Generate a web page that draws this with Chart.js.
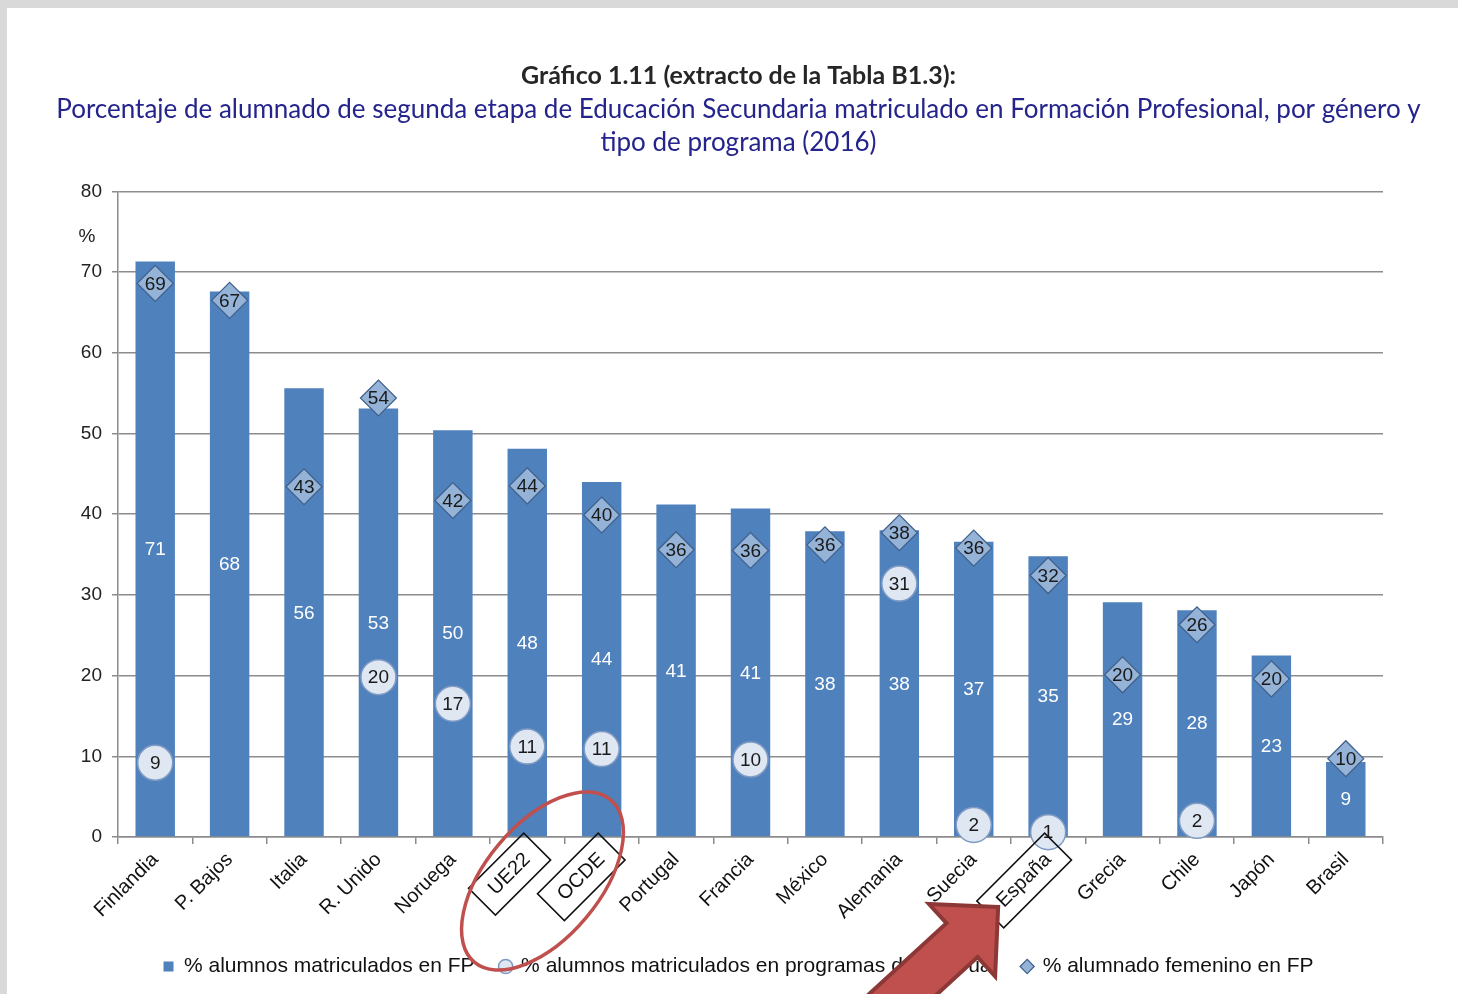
<!DOCTYPE html>
<html>
<head>
<meta charset="utf-8">
<script src="https://cdn.jsdelivr.net/npm/chart.js@4"></script>
<style>
  html, body { margin: 0; padding: 0; background: #d9d9d9; }
  #marco { position: absolute; left: 7px; top: 8px; width: 1451px; height: 986px; background: #ffffff; }
</style>
</head>
<body>
<div id="marco"><canvas id="grafico" width="1451" height="986"></canvas></div>
<script>
const paises = ['Finlandia', 'P. Bajos', 'Italia', 'R. Unido', 'Noruega', 'UE22', 'OCDE', 'Portugal', 'Francia',
    'México', 'Alemania', 'Suecia', 'España', 'Grecia', 'Chile', 'Japón', 'Brasil'];
const matriculadosFP = [71.3, 67.6, 55.6, 53.1, 50.4, 48.1, 44.0, 41.2, 40.7, 37.9, 38.0, 36.6, 34.8, 29.1, 28.1, 22.5, 9.3];
const programasDual = [9.2, null, null, 19.8, 16.5, 11.2, 10.9, null, 9.6, null, 31.4, 1.5, 0.6, null, 2.0, null, null];
const femeninoFP = [68.6, 66.5, 43.4, 54.4, 41.7, 43.5, 39.9, 35.6, 35.5, 36.2, 37.7, 35.8, 32.4, 20.1, 26.3, 19.6, 9.7];
const ticksY = [0, 10, 20, 30, 40, 50, 60, 70, 80];
const resaltados = ['UE22', 'OCDE', 'España'];
const rodeados = ['UE22', 'OCDE'];
const senalado = 'España';

const fuente = 'Liberation Sans, Arial, sans-serif';
const gris = '#8c8c8c';

// etiquetas de valor dentro de barras y marcadores
const etiquetas = {
    id: 'etiquetas',
    afterDatasetsDraw(chart) {
        const ctx = chart.ctx;
        ctx.save();
        ctx.textAlign = 'center';
        ctx.textBaseline = 'middle';
        ctx.font = '19px ' + fuente;
        chart.data.datasets.forEach((ds, i) => {
            const meta = chart.getDatasetMeta(i);
            meta.data.forEach((el, j) => {
                const v = ds.data[j];
                if (v === null || v === undefined) return;
                if (meta.type === 'bar') {
                    ctx.fillStyle = '#ffffff';
                    ctx.fillText(Math.round(v), el.x, (el.y + el.base) / 2 + 1);
                } else {
                    ctx.fillStyle = '#1a1a1a';
                    ctx.fillText(Math.round(v), el.x, el.y + 1);
                }
            });
        });
        ctx.restore();
    }
};

// recuadros, elipse, flecha y simbolo %
const anotaciones = {
    id: 'anotaciones',
    afterDraw(chart) {
        const ctx = chart.ctx;
        const xs = chart.scales.x, ys = chart.scales.y;
        const area = chart.chartArea;
        const items = xs.getLabelItems();

        ctx.save();
        ctx.font = '19px ' + fuente;
        ctx.fillStyle = '#222';
        ctx.textAlign = 'center';
        ctx.textBaseline = 'middle';
        ctx.fillText('%', area.left - 31, ys.getPixelForValue(74.4));
        ctx.restore();

        items.forEach(it => {
            if (!resaltados.includes(it.label)) return;
            const o = it.options;
            ctx.save();
            ctx.translate(o.translation[0], o.translation[1]);
            ctx.rotate(o.rotation);
            ctx.font = it.font.string;
            const w = ctx.measureText(it.label).width;
            const h = it.font.size;
            let x0 = -w;
            if (o.textAlign === 'left') x0 = 0;
            if (o.textAlign === 'center') x0 = -w / 2;
            let y0 = it.textOffset - h / 2;
            if (o.textBaseline === 'top') y0 = it.textOffset;
            if (o.textBaseline === 'bottom') y0 = it.textOffset - h;
            ctx.strokeStyle = '#111';
            ctx.lineWidth = 1.6;
            ctx.strokeRect(x0 - 14, y0 - 9, w + 28, h + 18);
            ctx.restore();
        });

        const ia = paises.indexOf(rodeados[0]), ib = paises.indexOf(rodeados[1]);
        const cx = (xs.getPixelForValue(ia) + xs.getPixelForValue(ib)) / 2 - 22;
        const cy = area.bottom + 44;
        ctx.save();
        ctx.strokeStyle = '#c0504d';
        ctx.lineWidth = 3.5;
        ctx.beginPath();
        ctx.ellipse(cx, cy, 106, 57, -50 * Math.PI / 180, 0, Math.PI * 2);
        ctx.stroke();
        ctx.restore();

        const ie = paises.indexOf(senalado);
        const tx = xs.getPixelForValue(ie) - 50;
        const ty = area.bottom + 70;
        ctx.save();
        ctx.translate(tx, ty);
        ctx.rotate(-42.5 * Math.PI / 180);
        ctx.beginPath();
        ctx.moveTo(0, 0);
        ctx.lineTo(-49, -49);
        ctx.lineTo(-49, -23);
        ctx.lineTo(-220, -23);
        ctx.lineTo(-220, 23);
        ctx.lineTo(-49, 23);
        ctx.lineTo(-49, 49);
        ctx.closePath();
        ctx.fillStyle = '#c0504d';
        ctx.fill();
        ctx.strokeStyle = '#8c3836';
        ctx.lineWidth = 4;
        ctx.lineJoin = 'miter';
        ctx.stroke();
        ctx.restore();
    }
};

new Chart(document.getElementById('grafico').getContext('2d'), {
    type: 'bar',
    data: {
        labels: paises,
        datasets: [{
            label: '% alumnos matriculados en FP',
            data: matriculadosFP,
            backgroundColor: '#4f81bd',
            pointStyle: 'rect',
            barPercentage: 0.53,
            categoryPercentage: 1,
            order: 3
        }, {
            type: 'line',
            label: '% alumnos matriculados en programas de FP Dual',
            data: programasDual,
            showLine: false,
            pointStyle: 'circle',
            pointRadius: 17.5,
            pointBackgroundColor: '#dfe7f2',
            pointBorderColor: '#7f9bc4',
            pointBorderWidth: 1.5,
            backgroundColor: '#dfe7f2',
            borderColor: '#7f9bc4',
            borderWidth: 1.5,
            clip: false,
            order: 2
        }, {
            type: 'line',
            label: '% alumnado femenino en FP',
            data: femeninoFP,
            showLine: false,
            pointStyle: 'rectRot',
            pointRadius: 18,
            pointBackgroundColor: '#95b3d7',
            pointBorderColor: '#3f5f8a',
            pointBorderWidth: 1.2,
            backgroundColor: '#95b3d7',
            borderColor: '#3f5f8a',
            borderWidth: 1.2,
            clip: false,
            order: 1
        }]
    },
    options: {
        responsive: false,
        animation: false,
        events: [],
        layout: { padding: { left: 12, right: 0, top: 0, bottom: 7 } },
        plugins: {
            tooltip: { enabled: false },
            title: {
                display: true,
                text: 'Gráfico 1.11 (extracto de la Tabla B1.3):',
                color: '#262626',
                font: { family: 'Lato', size: 25, weight: 'bold', lineHeight: 1.056 },
                padding: { top: 55, bottom: 0 }
            },
            subtitle: {
                display: true,
                text: ['Porcentaje de alumnado de segunda etapa de Educación Secundaria matriculado en Formación Profesional, por género y',
                    'tipo de programa (2016)'],
                color: '#24248c',
                font: { family: 'Lato', size: 26, lineHeight: 1.269 },
                padding: { top: 4, bottom: 32 }
            },
            legend: {
                position: 'bottom',
                labels: {
                    usePointStyle: true,
                    boxWidth: 10,
                    boxHeight: 10,
                    padding: 26,
                    color: '#111',
                    font: { family: fuente, size: 21 },
                    sort: (a, b) => a.datasetIndex - b.datasetIndex
                }
            }
        },
        scales: {
            x: {
                offset: true,
                grid: { offset: true, drawOnChartArea: false, drawTicks: true, tickLength: 7, color: gris, lineWidth: 1.5 },
                border: { color: gris, width: 1.5 },
                ticks: { minRotation: 45, maxRotation: 45, autoSkip: false, padding: 4, color: '#111', font: { family: fuente, size: 20 } },
                afterFit(scale) { scale.height = 93; }
            },
            y: {
                min: 0,
                max: 80,
                afterBuildTicks(scale) { scale.ticks = ticksY.map(v => ({ value: v })); },
                grid: { color: gris, lineWidth: 1.5, tickLength: 6 },
                border: { color: gris, width: 1.5 },
                ticks: { padding: 10, color: '#222', font: { family: fuente, size: 19 } },
                afterFit(scale) { scale.width = 99; }
            },
            margen: {
                position: 'right',
                min: 0,
                max: 80,
                grid: { display: false },
                border: { display: false },
                ticks: { display: false },
                afterFit(scale) { scale.width = 75; }
            }
        }
    },
    plugins: [etiquetas, anotaciones]
});
</script>
</body>
</html>
